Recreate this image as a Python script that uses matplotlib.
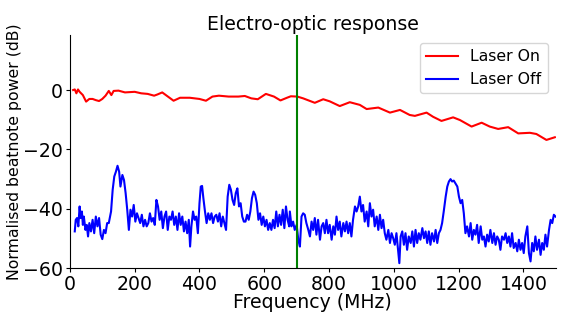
import matplotlib
matplotlib.use('Agg')
import matplotlib.pyplot as plt

# frequency (MHz) and normalised beatnote power (dB)
on_freq = [10, 15, 20, 25, 30, 40, 50, 60, 70, 80, 90, 100, 110, 120, 128, 135, 150, 170,
           200, 220, 240, 260, 270, 285, 300, 320, 340, 370, 400, 420, 440, 460, 490, 520,
           540, 560, 580, 605, 630, 650, 670, 682, 702, 720, 756, 782, 802, 833, 864, 895,
           916, 952, 988, 1019, 1049, 1065, 1101, 1121, 1147, 1183, 1204, 1240, 1271, 1296,
           1322, 1353, 1384, 1420, 1440, 1471, 1497]
on_power = [0.0, 0.2, -1.1, 0.2, -0.6, -1.7, -3.9, -3.0, -3.0, -3.4, -3.7, -3.0, -1.9, -0.3,
            -1.7, -0.3, -0.2, -0.8, -0.6, -1.1, -1.3, -1.9, -1.5, -0.8, -2.0, -3.6, -2.6,
            -2.6, -3.0, -3.6, -2.2, -1.9, -2.2, -2.2, -2.0, -2.8, -3.1, -1.3, -2.2, -3.5,
            -2.6, -2.1, -2.2, -2.8, -4.3, -3.1, -3.8, -5.4, -4.1, -5.0, -6.4, -5.9, -7.6,
            -6.7, -8.4, -8.7, -7.6, -9.0, -10.4, -9.2, -10.1, -12.3, -11.0, -12.3, -13.1,
            -12.5, -14.6, -14.4, -14.8, -16.8, -15.9]

off_freq = [15, 18, 22, 26, 30, 33, 37, 40, 43, 48, 52, 56, 60, 65, 70, 75, 80, 85, 90, 95,
            100, 105, 110, 115, 120, 127, 132, 137, 142, 147, 152, 156, 162, 167, 172, 177,
            182, 187, 192, 197, 202, 207, 212, 217, 222, 227, 232, 237, 242, 247, 252, 257,
            262, 267, 272, 277, 282, 287, 292, 297, 302, 307, 312, 317, 322, 327, 332, 337,
            342, 347, 352, 357, 362, 367, 371, 375, 380, 385, 390, 395, 400, 404, 408, 412,
            417, 422, 427, 432, 437, 442, 447, 452, 457, 462, 467, 472, 477, 482, 487, 492,
            497, 502, 507, 512, 517, 522, 527, 532, 537, 542, 547, 552, 557, 562, 567, 572,
            577, 582, 587, 592, 597, 602, 607, 612, 617, 622, 627, 632, 637, 642, 647, 652,
            657, 662, 667, 672, 677,
            679, 684, 689, 694, 700, 705, 710, 715, 720, 725, 730, 736, 741, 746, 751, 756,
            761, 766, 772, 777, 782, 787, 792, 797, 802, 808, 813, 818, 823, 828, 833, 838,
            844, 849, 854, 859, 864, 869, 874, 880, 885, 890, 895, 900, 905, 910, 916, 921,
            926, 931, 936, 941, 947, 952, 957, 962, 967, 972, 977, 983, 988, 993, 998, 1003,
            1008, 1013, 1017, 1021, 1026, 1031, 1036, 1041, 1046, 1052, 1057, 1062, 1067,
            1072, 1077, 1082, 1088, 1093, 1098, 1103, 1108, 1113, 1118, 1124, 1129, 1134,
            1139, 1144, 1149, 1154, 1160, 1165, 1170, 1175, 1180, 1185, 1190, 1196, 1201,
            1206, 1211, 1216, 1221, 1226, 1232, 1237, 1242, 1247, 1252, 1257, 1262, 1268,
            1273, 1278, 1283, 1288, 1293, 1298, 1304, 1309, 1314, 1319, 1324, 1329, 1334,
            1340, 1345, 1350, 1355, 1360, 1365, 1370, 1376, 1381, 1386, 1391, 1396, 1401,
            1406, 1412, 1417, 1422, 1427, 1432, 1437, 1442, 1448, 1453, 1458, 1463, 1468,
            1473, 1479, 1484, 1489, 1494, 1499]
off_power = [-47.6, -43.7, -43.1, -45.9, -39.2, -43.1, -40.9, -45.4, -42.6, -47.1, -45.4,
             -49.3, -44.8, -47.6, -43.7, -48.2, -42.6, -45.9, -43.1, -48.7, -50.2, -47.1,
             -48.2, -44.8, -44.8, -40.9, -33.6, -29.1, -27.5, -25.5, -27.5, -32.5, -28.6,
             -30.3, -34.7, -40.3, -47.1, -40.3, -42.6, -38.7, -44.3, -41.5, -43.1, -44.8,
             -42.0, -45.9, -43.7, -45.9, -44.8, -41.5, -44.3, -43.1, -45.4, -37.0, -39.2,
             -43.7, -40.9, -46.5, -42.6, -40.9, -47.1, -42.6, -43.7, -40.9, -45.4, -42.6,
             -47.1, -41.5, -45.4, -42.6, -47.6, -44.3, -48.2, -43.7, -52.7, -45.9, -40.9,
             -43.7, -42.6, -48.2, -38.1, -32.5, -32.3, -36.4, -40.9, -44.8, -41.5, -43.7,
             -41.5, -44.8, -42.6, -42.0, -44.3, -41.5, -45.9, -42.6, -44.8, -47.1, -35.9,
             -31.9, -33.6, -37.0, -38.7, -34.7, -33.1, -39.2, -38.1, -42.6, -44.3, -44.3,
             -42.0, -43.7, -40.9, -36.4, -34.2, -35.3, -38.1, -43.7, -41.5, -45.4, -42.6,
             -45.9, -43.7, -47.1, -44.8, -47.1, -43.7, -46.5, -40.9, -45.9, -42.0, -45.4,
             -40.3, -46.5, -39.2, -43.7, -45.9,
             -40.9, -45.9, -44.3, -47.1, -45.4, -50.4, -52.7, -42.6, -41.5, -42.0, -44.8,
             -47.1, -49.3, -44.3, -47.1, -43.1, -48.7, -43.7, -50.4, -45.9, -44.8, -48.2,
             -43.7, -48.2, -45.4, -50.4, -45.9, -48.7, -42.6, -47.1, -44.3, -49.3, -44.8,
             -47.6, -44.3, -48.2, -44.8, -49.3, -43.7, -39.2, -40.9, -39.2, -35.9, -40.9,
             -38.7, -44.3, -40.9, -45.9, -38.1, -42.6, -40.3, -45.9, -42.6, -47.1, -42.0,
             -46.5, -43.7, -48.2, -50.4, -47.1, -51.5, -48.2, -49.9, -52.1, -48.2, -53.8,
             -58.3, -49.3, -47.6, -52.1, -48.2, -53.8, -49.3, -51.5, -47.6, -52.7, -47.1,
             -51.5, -48.2, -50.4, -46.5, -49.9, -47.6, -51.5, -47.6, -52.1, -48.2, -51.0,
             -47.1, -51.5, -48.2, -47.1, -44.8, -40.9, -35.9, -32.5, -30.8, -30.0, -30.8,
             -30.5, -31.4, -32.5, -35.9, -38.1, -37.0, -41.5, -48.2, -45.9, -49.3, -44.8,
             -50.4, -47.1, -48.7, -45.4, -51.5, -45.9, -50.4, -49.3, -52.7, -48.7, -51.0,
             -47.1, -51.5, -48.2, -52.1, -49.3, -50.4, -53.8, -49.3, -50.4, -48.2, -51.5,
             -49.3, -52.7, -48.2, -53.2, -51.5, -54.3, -50.4, -53.8, -51.5, -54.9, -49.3,
             -45.9, -54.9, -57.7, -51.5, -54.3, -49.3, -53.8, -50.4, -55.5, -51.5, -53.8,
             -48.7, -52.7, -47.1, -43.7, -44.8, -42.0, -42.6]

marker_freq = 700
x_ticks = [0, 200, 400, 600, 800, 1000, 1200, 1400]
y_ticks = [-60, -40, -20, 0]

plt.rcParams['font.size'] = 11.3

fig = plt.figure(figsize=(5.73, 3.22), dpi=100)
ax = fig.add_axes([0.122, 0.167, 0.848, 0.724])

ax.plot(on_freq, on_power, c='r', lw=1.5, label='Laser On')
ax.plot(off_freq, off_power, c='b', lw=1.5, label='Laser Off')
ax.axvline(marker_freq, c='g', lw=1.5)

ax.set_xlim(0, 1500)
ax.set_ylim(-60, 18.5)
ax.set_xticks(x_ticks)
ax.set_yticks(y_ticks)
ax.tick_params(labelsize=13.6, length=3, pad=2)

ax.spines['top'].set_visible(False)
ax.spines['right'].set_visible(False)

ax.set_title('Electro-optic response', fontsize=13.6, pad=4)
ax.set_xlabel('Frequency (MHz)', fontsize=13.6, labelpad=-1)
ax.set_ylabel('Normalised beatnote power (dB)', labelpad=1)
ax.legend(loc='upper right')

fig.savefig('out.png', dpi=100)
